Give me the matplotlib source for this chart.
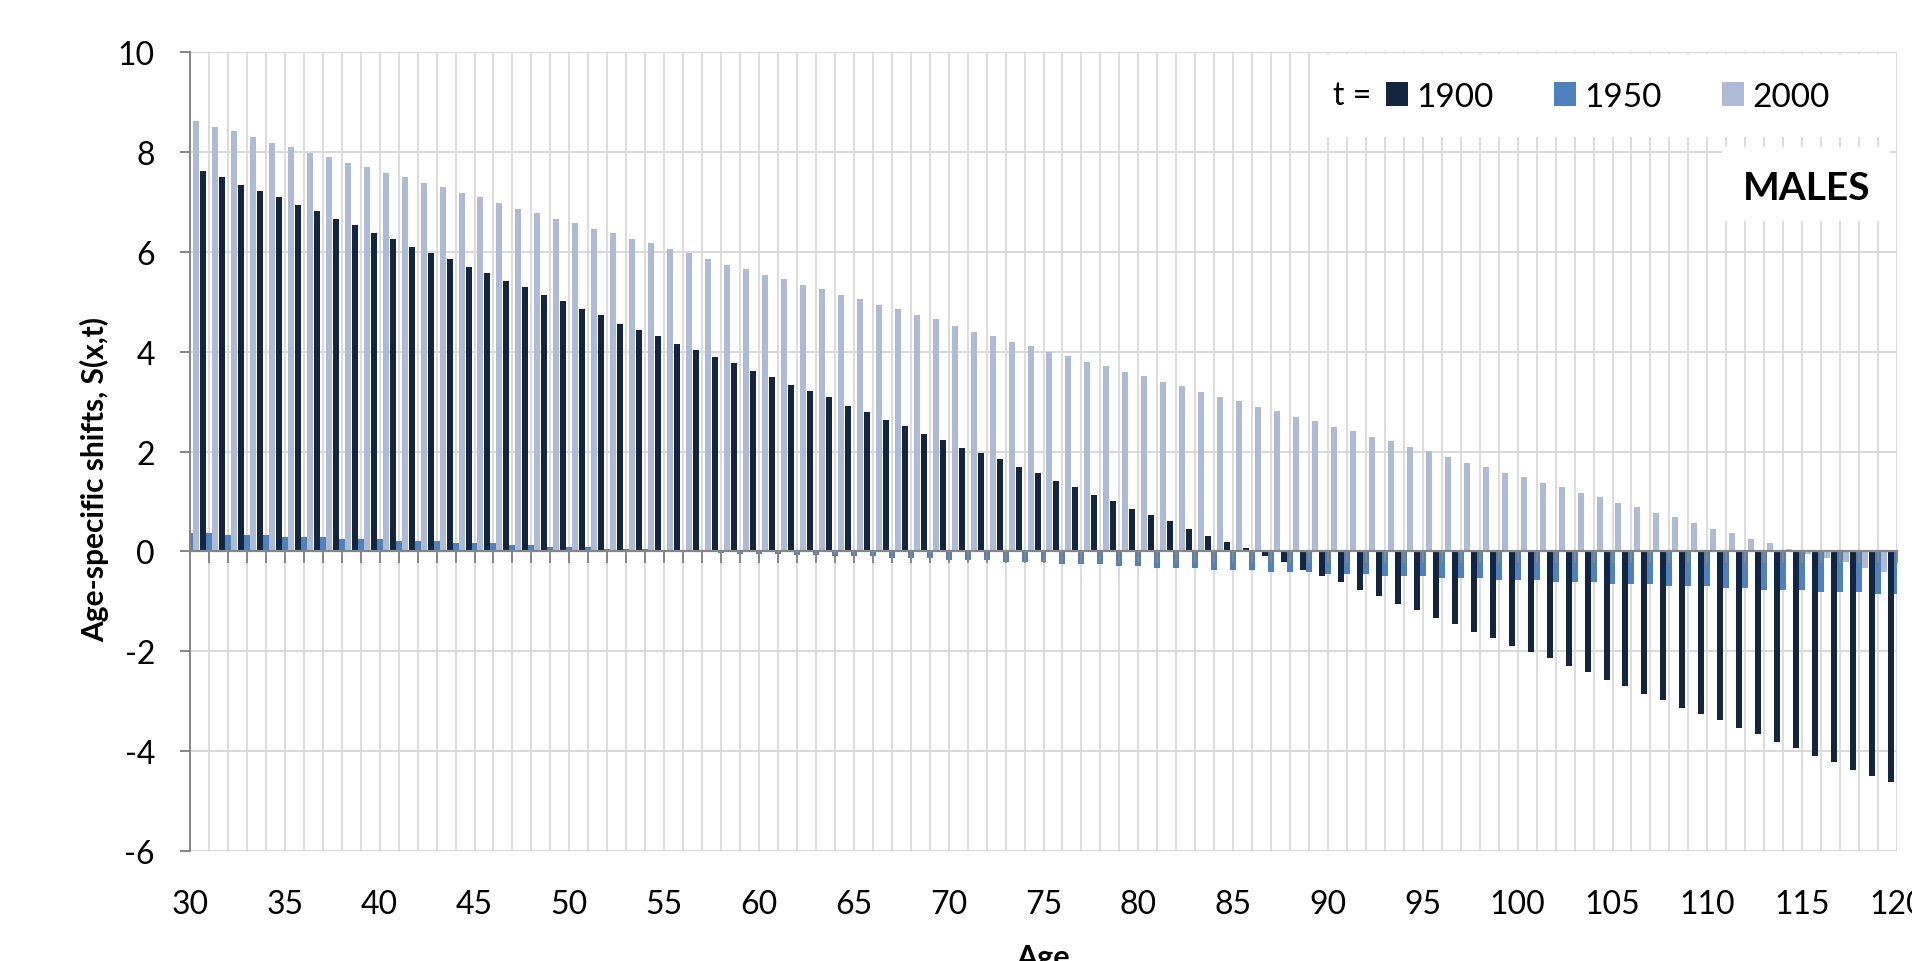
import matplotlib
matplotlib.use("Agg")
import matplotlib.pyplot as plt
import numpy as np
from matplotlib.patches import Rectangle

plt.rcParams['font.family'] = ['Lato', 'DejaVu Sans']
plt.rcParams['axes.unicode_minus'] = False

# ages on the category axis
ages = np.arange(30, 121)

# age-specific shifts S(x,t) for each period t
s_1900 = [7.74,
          7.62, 7.50, 7.34, 7.22, 7.10, 6.93, 6.81, 6.65, 6.53, 6.37,
          6.25, 6.09, 5.97, 5.85, 5.69, 5.57, 5.41, 5.29, 5.13, 5.01,
          4.85, 4.73, 4.56, 4.44, 4.32, 4.16, 4.04,
          3.89, 3.77, 3.61, 3.49, 3.33, 3.21, 3.09, 2.92, 2.80, 2.64,
          2.52, 2.36, 2.24, 2.08, 1.96, 1.84, 1.68, 1.56, 1.40, 1.28,
          1.12, 1.00, 0.84, 0.72, 0.60, 0.44, 0.31,
          0.18, 0.06, -0.10, -0.22, -0.38, -0.50, -0.62, -0.78, -0.90, -1.06,
          -1.18, -1.34, -1.46, -1.62, -1.74, -1.90, -2.02, -2.14, -2.30, -2.42,
          -2.58, -2.70, -2.86, -2.98, -3.14, -3.26, -3.38, -3.53, -3.65, -3.81,
          -3.93, -4.09, -4.21, -4.37, -4.49, -4.61]

s_1950 = [0.37, 0.37, 0.33, 0.33, 0.33, 0.29, 0.29, 0.29, 0.25, 0.25,
          0.25, 0.21, 0.21, 0.21, 0.17, 0.17, 0.17, 0.13, 0.13, 0.09,
          0.09, 0.09, 0.05, 0.05, 0.05, 0.02, 0.01, -0.01, -0.03, -0.05,
          -0.05, -0.05, -0.07, -0.07, -0.10, -0.10, -0.10, -0.14, -0.14, -0.14,
          -0.18, -0.18, -0.18, -0.22, -0.22, -0.22, -0.26, -0.26, -0.26, -0.30,
          -0.30, -0.34, -0.34, -0.34, -0.37, -0.37, -0.37, -0.41, -0.41, -0.41,
          -0.45, -0.45, -0.45, -0.49, -0.49, -0.49, -0.53, -0.53, -0.53, -0.57,
          -0.57, -0.57, -0.61, -0.61, -0.61, -0.65, -0.65, -0.65, -0.69, -0.69,
          -0.69, -0.73, -0.73, -0.77, -0.77, -0.77, -0.81, -0.81, -0.81, -0.85,
          -0.85]

s_2000 = [8.62, 8.50, 8.42, 8.30, 8.18, 8.10, 7.98, 7.90, 7.78, 7.70,
          7.58, 7.50, 7.38, 7.30, 7.18, 7.10, 6.97, 6.85, 6.77, 6.65,
          6.57, 6.45, 6.37, 6.25, 6.17, 6.05, 5.97,
          5.85, 5.73, 5.65, 5.53, 5.45, 5.33, 5.25, 5.13, 5.05, 4.93,
          4.85, 4.73, 4.65, 4.52, 4.40, 4.32, 4.20, 4.12, 4.00, 3.92,
          3.80, 3.72, 3.60, 3.52, 3.40, 3.32, 3.20, 3.09,
          3.01, 2.89, 2.81, 2.69, 2.61, 2.49, 2.41, 2.29, 2.21, 2.09,
          2.01, 1.89, 1.77, 1.69, 1.57, 1.49, 1.37, 1.29, 1.17, 1.09,
          0.97, 0.89, 0.77, 0.69, 0.57, 0.45, 0.37, 0.25, 0.17, 0.05,
          -0.05, -0.13, -0.21, -0.33, -0.41, -0.53]

periods = ['1900', '1950', '2000']
series = [s_1900, s_1950, s_2000]
colors = ['#14263f', '#4f81bd', '#adbbd9']

grid_c = '#d9d9d9'
axis_c = '#868686'

fig = plt.figure(figsize=(19.12, 9.62), dpi=100)
ax = fig.add_axes([190 / 1912, 1 - 852 / 962, 1707 / 1912, 799 / 962])

w = 0.316
offsets = [-w, 0.0, w]
bars = []
for vals, off, col, lab in zip(series, offsets, colors, periods):
    b = ax.bar(ages + off, vals, width=w, color=col, linewidth=0, label=lab)
    bars.append(b)

ax.set_xlim(30, 120)
ax.set_ylim(-6, 10)
ax.set_yticks(np.arange(-6, 11, 2))
ax.set_xticks(np.arange(30, 121, 5))
ax.set_xticks(ages, minor=True)
ax.set_axisbelow(True)
ax.grid(axis='y', color=grid_c, linewidth=1.4)
ax.grid(axis='x', which='both', color=grid_c, linewidth=1.3)

for side in ['top', 'right', 'bottom']:
    ax.spines[side].set_visible(False)
ax.spines['left'].set_color(axis_c)
ax.spines['left'].set_linewidth(1.4)

ax.tick_params(axis='x', which='both', length=0, pad=27, labelsize=23)
ax.tick_params(axis='y', length=7.2, width=1.4, color=axis_c, pad=18, labelsize=23)

# category axis crossing at zero, with a tick for every age
zero_ax = ax.secondary_xaxis(0, transform=ax.transData)
zero_ax.set_xticks(ages)
zero_ax.set_xticklabels([])
zero_ax.tick_params(axis='x', length=8.6, width=1.4, color=axis_c, direction='out')
zero_ax.spines['bottom'].set_color(axis_c)
zero_ax.spines['bottom'].set_linewidth(1.6)
zero_ax.set_zorder(3)

ax.text(-0.056, 0.466, 'Age-specific shifts, S(x,t)', transform=ax.transAxes,
        rotation=90, ha='center', va='center', fontsize=21.5, fontweight='bold')
fig.text(1043 / 1912, 1 - 944 / 962, 'Age', ha='center', va='top',
         fontsize=22, fontweight='bold')

# white panels behind the legend and the sex label
fig.add_artist(Rectangle((1310 / 1912, 1 - 138 / 962), 580 / 1912, 83 / 962,
                         transform=fig.transFigure, facecolor='white',
                         edgecolor='none', zorder=1))
fig.add_artist(Rectangle((1722 / 1912, 1 - 222 / 962), 168 / 1912, 74 / 962,
                         transform=fig.transFigure, facecolor='white',
                         edgecolor='none', zorder=1))

fig.legend(handles=bars, labels=periods, ncol=3, frameon=False,
           loc='center left', bbox_to_anchor=(1386 / 1912, 1 - 98 / 962),
           bbox_transform=fig.transFigure, fontsize=24, borderpad=0,
           borderaxespad=0, handlelength=0.67, handleheight=0.72,
           handletextpad=0.25, columnspacing=1.8)
fig.text(1333 / 1912, 1 - 96 / 962, 't =', ha='left', va='center', fontsize=23)
fig.text(1870 / 1912, 1 - 188 / 962, 'MALES', ha='right', va='center',
         fontsize=28, fontweight='bold')

fig.savefig('out.png', dpi=100)
